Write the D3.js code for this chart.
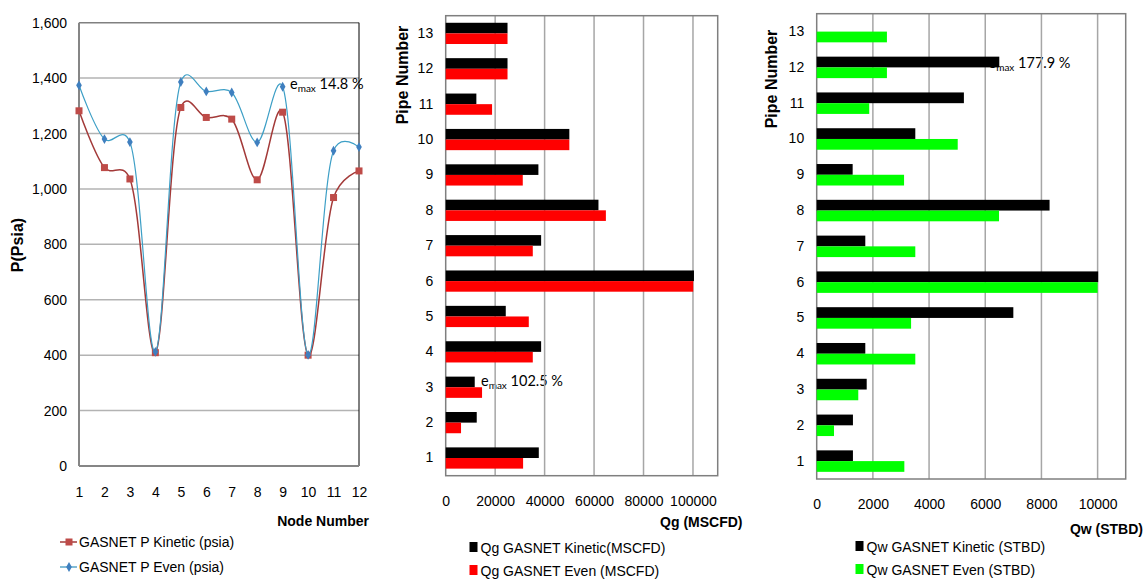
<!DOCTYPE html>
<html>
<head>
<meta charset="utf-8">
<script src="https://cdn.jsdelivr.net/npm/d3@7"></script>
<style>
  body { margin: 0; background: #fff; }
  text { font-family: "Liberation Sans", Arial, sans-serif; fill: #000; }
  .note, .note tspan { font-family: Lato, "Open Sans", sans-serif; }
</style>
</head>
<body>
<svg id="chart" width="1146" height="580"></svg>
<script>
"use strict";
// node pressures (psia)
var nodes = [1, 2, 3, 4, 5, 6, 7, 8, 9, 10, 11, 12];
var pKinetic = [1282, 1077, 1036, 409, 1294, 1258, 1252, 1033, 1277, 400, 969, 1065];
var pEven = [1374, 1180, 1169, 412, 1386, 1352, 1348, 1168, 1369, 401, 1138, 1151];
var pTicks = [0, 200, 400, 600, 800, 1000, 1200, 1400, 1600];

// pipe flows
var pipes = [1, 2, 3, 4, 5, 6, 7, 8, 9, 10, 11, 12, 13];
var qgKinetic = [37650, 12550, 11740, 38590, 24290, 100400, 38590, 61780, 37490, 50000, 12400, 25000, 25000];
var qgEven = [31300, 6200, 14700, 35220, 33600, 100100, 35220, 64780, 31170, 50000, 18750, 25000, 25000];
var qgTicks = [0, 20000, 40000, 60000, 80000, 100000];
var qwKinetic = [1290, 1290, 1780, 1730, 7000, 10020, 1730, 8290, 1280, 3510, 5240, 6500, 0];
var qwEven = [3120, 616, 1480, 3510, 3360, 10000, 3510, 6490, 3110, 5020, 1870, 2500, 2500];
var qwTicks = [0, 2000, 4000, 6000, 8000, 10000];

var svg = d3.select("#chart");

function note(g, x, y, value) {
    var t = g.append("text").attr("class", "note").attr("x", x).attr("y", y)
        .style("font-size", "14.5px");
    t.append("tspan").text("e");
    t.append("tspan").attr("dy", 3).style("font-size", "10px").text("max");
    t.append("tspan").attr("dy", -3).text(" " + value);
}

// ---------- line chart: pressure ----------
(function () {
    var left = 79, right = 359, top = 22.7, bottom = 466;
    var g = svg.append("g");
    var x = d3.scalePoint().domain(nodes).range([left, right]);
    var y = d3.scaleLinear().domain([0, 1600]).range([bottom, top]);

    g.selectAll(".grid").data(pTicks.slice(1)).enter().append("line")
        .attr("x1", left).attr("x2", right)
        .attr("y1", function (d) { return y(d); }).attr("y2", function (d) { return y(d); })
        .style("stroke", function (d) { return d === 1600 ? "#808080" : "#b3b3b3"; })
        .style("stroke-width", 1.5);
    g.append("line").attr("x1", right).attr("x2", right).attr("y1", top).attr("y2", bottom)
        .style("stroke", "#000").style("stroke-width", 1);
    g.append("line").attr("x1", left).attr("x2", left).attr("y1", top).attr("y2", bottom)
        .style("stroke", "#868686").style("stroke-width", 2);
    g.append("line").attr("x1", left).attr("x2", right).attr("y1", bottom).attr("y2", bottom)
        .style("stroke", "#868686").style("stroke-width", 2);

    var ya = g.append("g").attr("transform", "translate(" + left + ",0)")
        .call(d3.axisLeft(y).tickValues(pTicks).tickFormat(d3.format(",")).tickSize(0).tickPadding(12));
    ya.select(".domain").remove();
    ya.selectAll("text").style("font-size", "14px").style("font-family", null);
    var xa = g.append("g").attr("transform", "translate(0," + bottom + ")")
        .call(d3.axisBottom(x).tickSize(0).tickPadding(21));
    xa.select(".domain").remove();
    xa.selectAll("text").style("font-size", "14px").style("font-family", null);

    g.append("text").attr("transform", "translate(23,245) rotate(-90)")
        .attr("text-anchor", "middle").style("font-size", "16px").style("font-weight", "bold").text("P(Psia)");
    g.append("text").attr("x", 369).attr("y", 526).attr("text-anchor", "end")
        .style("font-size", "14px").style("font-weight", "bold").text("Node Number");

    note(g, 290, 89, "14.8 %");

    var line = d3.line().curve(d3.curveCatmullRom.alpha(0.2))
        .x(function (d, i) { return x(nodes[i]); }).y(function (d) { return y(d); });

    g.append("path").datum(pKinetic).attr("d", line)
        .style("fill", "none").style("stroke", "#a33a39").style("stroke-width", 1.5);
    g.selectAll(".sq").data(pKinetic).enter().append("rect")
        .attr("x", function (d, i) { return x(nodes[i]) - 3.5; })
        .attr("y", function (d) { return y(d) - 3.5; })
        .attr("width", 7).attr("height", 7).style("fill", "#be4b48");

    g.append("path").datum(pEven).attr("d", line)
        .style("fill", "none").style("stroke", "#3d9fc6").style("stroke-width", 1.2);
    var dia = d3.symbol().type(d3.symbolDiamond).size(28);
    g.selectAll(".dm").data(pEven).enter().append("path")
        .attr("d", dia)
        .attr("transform", function (d, i) { return "translate(" + x(nodes[i]) + "," + y(d) + ")"; })
        .style("fill", "#3f7fbf");

    // legend
    [["GASNET P Kinetic (psia)", "#a33a39", "sq", 547], ["GASNET P Even (psia)", "#5aa6c8", "dm", 572]]
        .forEach(function (l) {
            var cy = l[3] - 5;
            g.append("line").attr("x1", 60).attr("x2", 77).attr("y1", cy).attr("y2", cy)
                .style("stroke", l[1]).style("stroke-width", 1.5);
            if (l[2] === "sq") {
                g.append("rect").attr("x", 65.5).attr("y", cy - 3.5).attr("width", 7).attr("height", 7).style("fill", "#be4b48");
            } else {
                g.append("path").attr("d", dia).attr("transform", "translate(69," + cy + ")").style("fill", "#3f7fbf");
            }
            g.append("text").attr("x", 79).attr("y", l[3]).style("font-size", "14px").text(l[0]);
        });
})();

// ---------- horizontal bar charts ----------
function barChart(o) {
    var g = svg.append("g");
    var x = d3.scaleLinear().domain([0, o.max]).range([o.left, o.right]);
    var y = d3.scaleBand().domain(pipes.slice().reverse()).range([o.top, o.bottom])
        .paddingInner(0.4).paddingOuter(0.2);
    var inner = d3.scaleBand().domain(["k", "e"]).range([0, y.bandwidth()]);

    note(g, o.note[0], o.note[1], o.note[2]);

    g.selectAll(".grid").data(o.ticks.slice(1)).enter().append("line")
        .attr("x1", function (d) { return x(d); }).attr("x2", function (d) { return x(d); })
        .attr("y1", o.top).attr("y2", o.bottom)
        .style("stroke", "#a6a6a6").style("stroke-width", 1.5);
    g.append("rect").attr("x", o.left).attr("y", o.top)
        .attr("width", o.right - o.left).attr("height", o.bottom - o.top)
        .style("fill", "none").style("stroke", "#7f7f7f").style("stroke-width", 1.5);

    var rows = pipes.map(function (p, i) { return { pipe: p, k: o.kin[i], e: o.even[i] }; });
    ["k", "e"].forEach(function (s) {
        g.selectAll(".bar-" + s).data(rows).enter().append("rect")
            .attr("x", o.left)
            .attr("y", function (d) { return y(d.pipe) + inner(s); })
            .attr("width", function (d) { return x(d[s]) - o.left; })
            .attr("height", inner.bandwidth())
            .style("fill", s === "k" ? "#000" : o.color);
    });

    var ya = g.append("g").attr("transform", "translate(" + o.left + ",0)")
        .call(d3.axisLeft(y).tickSize(0).tickPadding(12.5));
    ya.select(".domain").remove();
    ya.selectAll("text").style("font-size", "14px").style("font-family", null);
    var xa = g.append("g").attr("transform", "translate(0," + o.bottom + ")")
        .call(d3.axisBottom(x).tickValues(o.ticks).tickFormat(d3.format("d")).tickSize(0).tickPadding(20));
    xa.select(".domain").remove();
    xa.selectAll("text").style("font-size", "14px").style("font-family", null);

    g.append("text").attr("transform", "translate(" + o.yTitle[0] + "," + o.yTitle[1] + ") rotate(-90)")
        .attr("text-anchor", "middle").style("font-size", "16px").style("font-weight", "bold").text("Pipe Number");
    g.append("text").attr("x", o.xTitle[0]).attr("y", o.xTitle[1]).attr("text-anchor", "end")
        .style("font-size", "14px").style("font-weight", "bold").text(o.xTitle[2]);

    o.legend.forEach(function (l, i) {
        var base = o.legendY[i];
        g.append("rect").attr("x", o.legendX).attr("y", base - 11).attr("width", 8).attr("height", 10)
            .style("fill", i === 0 ? "#000" : o.color);
        g.append("text").attr("x", o.legendX + 11).attr("y", base).style("font-size", "14px").text(l);
    });
}

barChart({
    left: 445.7, right: 717.7, top: 15.7, bottom: 475.7, max: 110000,
    ticks: qgTicks, kin: qgKinetic, even: qgEven, color: "#ff0000",
    note: [481, 386, "102.5 %"],
    yTitle: [408, 75], xTitle: [742.5, 527, "Qg (MSCFD)"],
    legend: ["Qg GASNET Kinetic(MSCFD)", "Qg GASNET Even (MSCFD)"],
    legendX: 469.5, legendY: [553, 576]
});

barChart({
    left: 816.7, right: 1125.7, top: 13.7, bottom: 479, max: 11000,
    ticks: qwTicks, kin: qwKinetic, even: qwEven, color: "#00ff00",
    note: [988.5, 68, "177.9 %"],
    yTitle: [777, 79], xTitle: [1143, 534, "Qw (STBD)"],
    legend: ["Qw GASNET Kinetic (STBD)", "Qw GASNET Even (STBD)"],
    legendX: 855.5, legendY: [552, 575]
});
</script>
</body>
</html>
